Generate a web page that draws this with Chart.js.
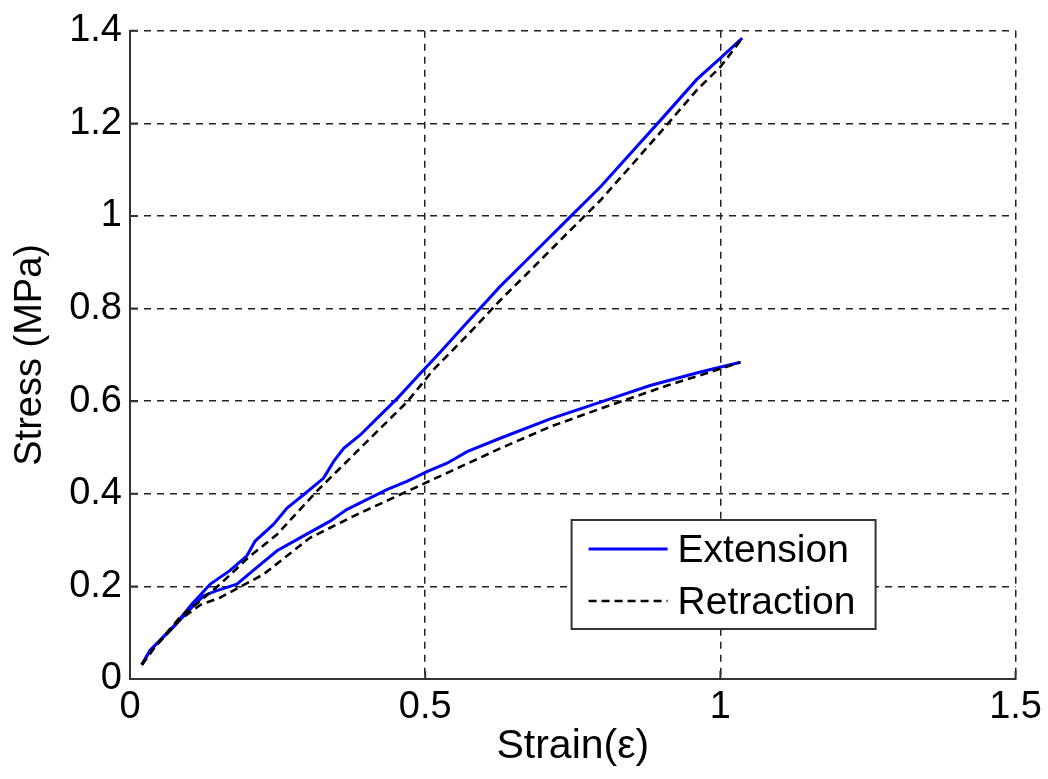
<!DOCTYPE html>
<html>
<head>
<meta charset="utf-8">
<script src="https://cdn.jsdelivr.net/npm/chart.js@4/dist/chart.umd.min.js"></script>
<style>
  html, body { margin: 0; padding: 0; background: #fff; }
  #wrap { width: 1048px; height: 779px; position: relative; }
</style>
</head>
<body>
<div id="wrap"><canvas id="stressChart"></canvas></div>
<script>
// stress-strain loops, two tests: upper (stiff) and lower
var extUpperX = [0.020, 0.034, 0.073, 0.105, 0.121, 0.136, 0.169, 0.198, 0.212, 0.243, 0.266, 0.294, 0.328, 0.345, 0.362, 0.390, 0.424, 0.452, 0.494, 0.525, 0.571, 0.627, 0.684, 0.740, 0.797, 0.847, 0.898, 0.960, 1.000, 1.037];
var extUpperY = [0.031, 0.062, 0.112, 0.162, 0.184, 0.205, 0.234, 0.266, 0.298, 0.334, 0.369, 0.398, 0.434, 0.470, 0.498, 0.527, 0.570, 0.605, 0.663, 0.705, 0.770, 0.848, 0.920, 0.991, 1.063, 1.134, 1.206, 1.295, 1.341, 1.384];

var retUpperX = [0.020, 0.042, 0.085, 0.119, 0.153, 0.200, 0.249, 0.316, 0.384, 0.469, 0.514, 0.571, 0.627, 0.684, 0.740, 0.797, 0.847, 0.898, 0.960, 1.000, 1.037];
var retUpperY = [0.031, 0.069, 0.134, 0.169, 0.205, 0.262, 0.312, 0.405, 0.491, 0.598, 0.668, 0.742, 0.818, 0.890, 0.962, 1.034, 1.106, 1.180, 1.272, 1.322, 1.384];

var extLowerX = [0.020, 0.034, 0.073, 0.105, 0.125, 0.147, 0.181, 0.215, 0.249, 0.294, 0.339, 0.367, 0.435, 0.469, 0.503, 0.537, 0.571, 0.627, 0.712, 0.797, 0.881, 0.966, 1.034];
var extLowerY = [0.031, 0.062, 0.112, 0.155, 0.180, 0.191, 0.205, 0.241, 0.277, 0.309, 0.341, 0.366, 0.409, 0.427, 0.448, 0.466, 0.491, 0.520, 0.562, 0.598, 0.634, 0.663, 0.684];

var retLowerX = [0.020, 0.042, 0.085, 0.119, 0.153, 0.226, 0.305, 0.384, 0.469, 0.542, 0.627, 0.712, 0.797, 0.910, 0.966, 1.034];
var retLowerY = [0.031, 0.069, 0.128, 0.160, 0.176, 0.226, 0.305, 0.355, 0.405, 0.448, 0.498, 0.545, 0.584, 0.634, 0.656, 0.684];

var xTicks = [0, 0.5, 1, 1.5];
var xTickLabels = ['0', '0.5', '1', '1.5'];
var yTicks = [0, 0.2, 0.4, 0.6, 0.8, 1, 1.2, 1.4];
var yTickLabels = ['0', '0.2', '0.4', '0.6', '0.8', '1', '1.2', '1.4'];

var seriesNames = ['Extension', 'Retraction'];

var FONT = "'Liberation Sans', Arial, sans-serif";

function pts(xs, ys) {
    return xs.map(function (x, i) { return { x: x, y: ys[i] }; });
}

var extStyle = { borderColor: '#0000ff', borderWidth: 3, pointRadius: 0, showLine: true, tension: 0, fill: false, order: 1 };
var retStyle = { borderColor: '#000000', borderWidth: 2.6, borderDash: [8, 5], pointRadius: 0, showLine: true, tension: 0, fill: false, order: 0 };

// inward tick marks on left and bottom axes
var innerTicks = {
    id: 'innerTicks',
    afterDraw: function (chart) {
        var ctx = chart.ctx, a = chart.chartArea;
        var sx = chart.scales.x, sy = chart.scales.y;
        ctx.save();
        ctx.strokeStyle = '#333';
        ctx.lineWidth = 2;
        ctx.beginPath();
        xTicks.forEach(function (v) {
            var px = sx.getPixelForValue(v);
            ctx.moveTo(px, a.bottom);
            ctx.lineTo(px, a.bottom - 8);
        });
        yTicks.forEach(function (v) {
            var py = sy.getPixelForValue(v);
            ctx.moveTo(a.left, py);
            ctx.lineTo(a.left + 8, py);
        });
        ctx.stroke();
        ctx.restore();
    }
};

// boxed legend in the lower right of the plot
var boxLegend = {
    id: 'boxLegend',
    afterDraw: function (chart) {
        var ctx = chart.ctx, a = chart.chartArea;
        var w = 304, h = 109;
        var x0 = a.right - 140 - w, y0 = a.bottom - 50 - h;
        ctx.save();
        ctx.fillStyle = '#fff';
        ctx.fillRect(x0, y0, w, h);
        ctx.strokeStyle = '#333';
        ctx.lineWidth = 2;
        ctx.strokeRect(x0, y0, w, h);
        var styles = [extStyle, retStyle];
        ctx.font = '39px ' + FONT;
        ctx.textBaseline = 'middle';
        ctx.fillStyle = '#000';
        seriesNames.forEach(function (name, i) {
            var cy = y0 + 29 + i * 52;
            ctx.beginPath();
            ctx.strokeStyle = styles[i].borderColor;
            ctx.lineWidth = styles[i].borderWidth;
            ctx.setLineDash(styles[i].borderDash || []);
            ctx.moveTo(x0 + 17, cy);
            ctx.lineTo(x0 + 96, cy);
            ctx.stroke();
            ctx.setLineDash([]);
            ctx.fillText(name, x0 + 106, cy + 2);
        });
        ctx.restore();
    }
};

new Chart(document.getElementById('stressChart').getContext('2d'), {
    type: 'scatter',
    data: {
        datasets: [
            Object.assign({ label: seriesNames[0], data: pts(extUpperX, extUpperY) }, extStyle),
            Object.assign({ label: seriesNames[0], data: pts(extLowerX, extLowerY) }, extStyle),
            Object.assign({ label: seriesNames[1], data: pts(retUpperX, retUpperY) }, retStyle),
            Object.assign({ label: seriesNames[1], data: pts(retLowerX, retLowerY) }, retStyle)
        ]
    },
    options: {
        responsive: true,
        maintainAspectRatio: false,
        animation: false,
        layout: { padding: { top: 26, right: 31, left: 0, bottom: 0 } },
        plugins: {
            legend: { display: false },
            tooltip: { enabled: false }
        },
        scales: {
            x: {
                type: 'linear',
                min: 0,
                max: 1.5,
                afterBuildTicks: function (s) { s.ticks = xTicks.map(function (v) { return { value: v }; }); },
                afterFit: function (s) { s.height = 100; },
                ticks: {
                    color: '#000',
                    padding: 6,
                    maxRotation: 0,
                    font: { family: FONT, size: 38 },
                    callback: function (v, i) { return xTickLabels[i]; }
                },
                grid: { color: '#222', lineWidth: 1.5, drawTicks: false },
                border: { display: true, color: '#333', width: 2, dash: [7, 6] },
                title: {
                    display: true,
                    text: 'Strain(ε)',
                    color: '#000',
                    font: { family: FONT, size: 41 },
                    padding: { top: 0, bottom: 8 }
                }
            },
            y: {
                type: 'linear',
                min: 0,
                max: 1.4,
                afterBuildTicks: function (s) { s.ticks = yTicks.map(function (v) { return { value: v }; }); },
                afterFit: function (s) { s.width = 130; },
                ticks: {
                    color: '#000',
                    padding: 8,
                    font: { family: FONT, size: 38 },
                    callback: function (v, i) { return yTickLabels[i]; }
                },
                grid: { color: '#222', lineWidth: 1.5, drawTicks: false },
                border: { display: true, color: '#333', width: 2, dash: [7, 6] },
                title: {
                    display: true,
                    text: 'Stress (MPa)',
                    color: '#000',
                    font: { family: FONT, size: 38 },
                    padding: { top: 8, bottom: 0 }
                }
            }
        }
    },
    plugins: [innerTicks, boxLegend]
});
</script>
</body>
</html>
